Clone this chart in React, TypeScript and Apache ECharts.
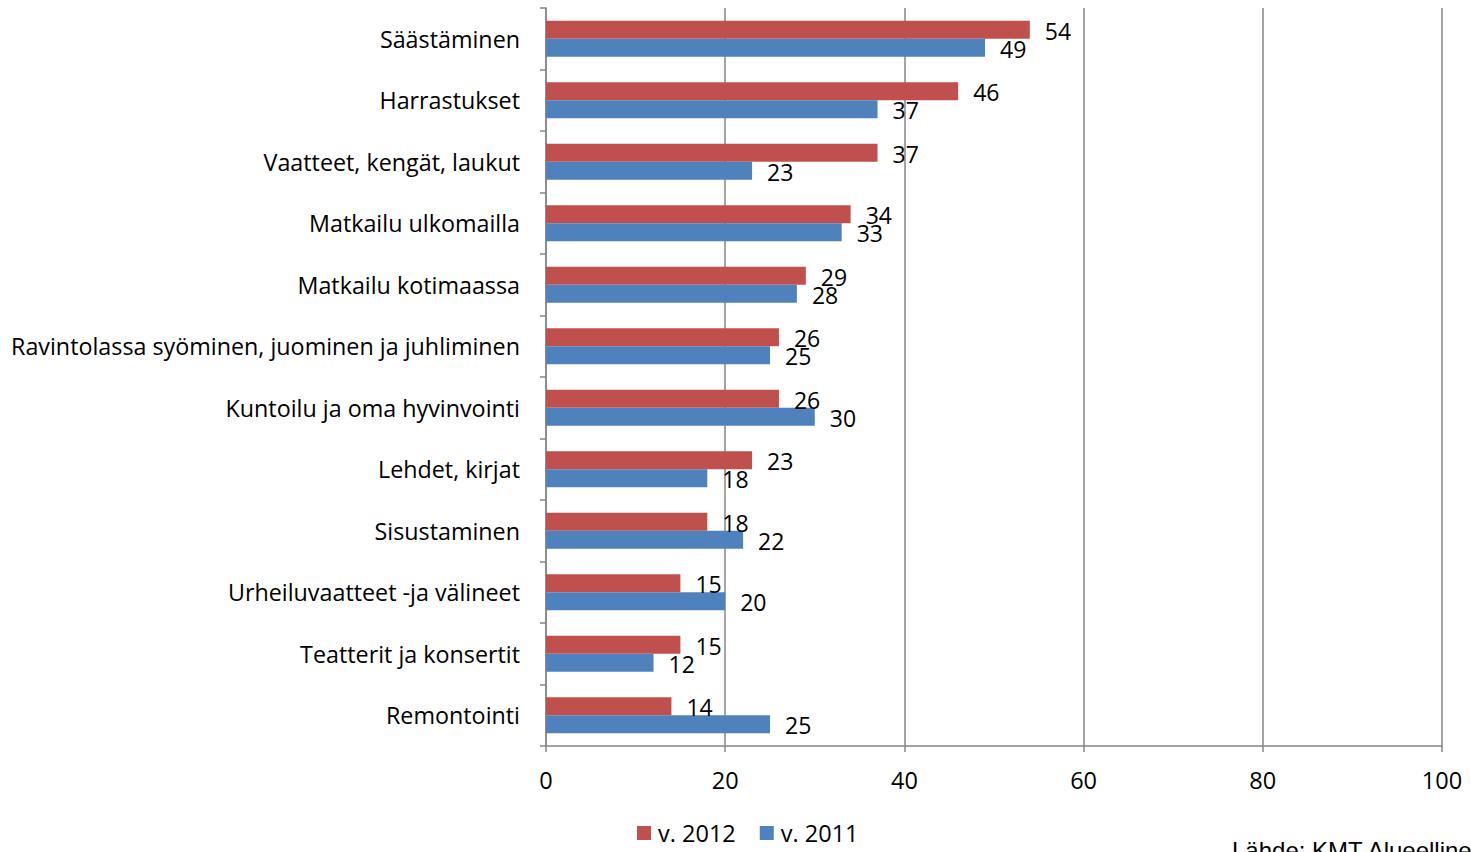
import React, { useEffect, useRef } from "react";
import * as echarts from "echarts";

const categories = [
  "Säästäminen",
  "Harrastukset",
  "Vaatteet, kengät, laukut",
  "Matkailu ulkomailla",
  "Matkailu kotimaassa",
  "Ravintolassa syöminen, juominen ja juhliminen",
  "Kuntoilu ja oma hyvinvointi",
  "Lehdet, kirjat",
  "Sisustaminen",
  "Urheiluvaatteet -ja välineet",
  "Teatterit ja konsertit",
  "Remontointi",
];
const values2012 = [54, 46, 37, 34, 29, 26, 26, 23, 18, 15, 15, 14];
const values2011 = [49, 37, 23, 33, 28, 25, 30, 18, 22, 20, 12, 25];
const seriesNames = ["v. 2012", "v. 2011"];
const sourceText = "Lähde: KMT Alueellinen";

const FONT = "'Open Sans', 'Noto Sans', sans-serif";
const SRC_FONT = "'Liberation Sans', Arial, sans-serif";

export default function App() {
  const ref = useRef<HTMLDivElement>(null);
  useEffect(() => {
    if (!ref.current) return;
    const chart = echarts.init(ref.current, null, { renderer: "svg" });
    const labelStyle = {
      show: true,
      position: "right",
      distance: 15,
      offset: [0, 1],
      color: "#000",
      fontSize: 23,
      fontFamily: FONT,
    };
    chart.setOption({
      animation: false,
      backgroundColor: "#fff",
      grid: { left: 546, right: 29, top: 8, bottom: 106, containLabel: false },
      legend: {
        bottom: 2,
        left: 632,
        itemWidth: 14,
        itemHeight: 14,
        itemGap: 24,
        icon: "rect",
        data: seriesNames,
        textStyle: { fontSize: 23.5, fontFamily: FONT, color: "#000", padding: [0, 0, 0, 2] },
      },
      xAxis: {
        type: "value",
        min: 0,
        max: 100,
        interval: 20,
        axisLine: { show: true, lineStyle: { color: "#868686", width: 1.5 } },
        axisTick: { show: true, length: 6, inside: false, lineStyle: { color: "#868686", width: 1.5 } },
        splitLine: { show: true, lineStyle: { color: "#868686", width: 1.5 } },
        axisLabel: { fontSize: 23.5, fontFamily: FONT, color: "#000", margin: 22 },
      },
      yAxis: {
        type: "category",
        inverse: true,
        data: categories,
        axisLine: { show: true, lineStyle: { color: "#868686", width: 1.5 } },
        axisTick: { show: true, length: 6, lineStyle: { color: "#868686", width: 1.5 } },
        axisLabel: { fontSize: 23.3, fontFamily: FONT, color: "#000", margin: 26 },
      },
      series: [
        {
          name: seriesNames[0],
          type: "bar",
          data: values2012,
          barWidth: 18,
          barGap: "0%",
          itemStyle: { color: "#C0504D" },
          label: labelStyle,
        },
        {
          name: seriesNames[1],
          type: "bar",
          data: values2011,
          barWidth: 18,
          barGap: "0%",
          itemStyle: { color: "#4F81BD" },
          label: labelStyle,
        },
      ],
      graphic: [
        {
          type: "text",
          left: 1232,
          top: 838,
          style: { text: sourceText, fontSize: 24, fontFamily: SRC_FONT, fill: "#000" },
        },
      ],
    });
    return () => chart.dispose();
  }, []);
  return (
    <div
      ref={ref}
      style={{ position: "fixed", left: 0, top: 0, width: 1471, height: 852 }}
    />
  );
}
